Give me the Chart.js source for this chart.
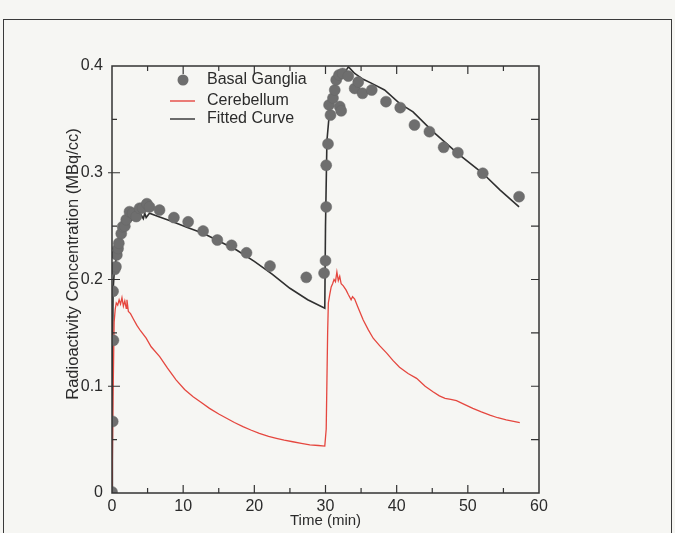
<!DOCTYPE html>
<html><head><meta charset="utf-8">
<script src="https://cdn.jsdelivr.net/npm/chart.js@4"></script>
<style>
html,body{margin:0;padding:0;background:#f6f6f3;}
#wrap{position:relative;width:675px;height:533px;overflow:hidden;}
#frame{position:absolute;left:3px;top:19px;width:669px;height:530px;border:1.5px solid #3a3a3a;box-sizing:border-box;}
canvas{position:absolute;left:0;top:0;}
</style></head><body>
<div id="wrap"><div id="frame"></div><canvas id="c" width="675" height="533"></canvas></div>
<script>
// ---- data ----
const xTicks = [0,10,20,30,40,50,60];
const xMinorTicks = [5,15,25,35,45,55];
const yTicks = [0,0.1,0.2,0.3,0.4];
const yMinorTicks = [0.05,0.15,0.25,0.35];

const bgTime  = [0,0.1,0.2,0.15,0.4,0.55,0.68,0.85,0.96,1.3,1.5,1.8,2.0,2.46,2.9,3.4,3.87,4.3,4.9,5.27,6.68,8.7,10.7,12.8,14.8,16.8,18.9,22.2,27.3,29.8,30.0,30.1,30.1,30.35,30.7,30.5,31.05,31.3,31.5,31.9,32.4,33.2,32.0,32.2,34.1,34.6,35.2,36.5,38.5,40.5,42.5,44.6,46.6,48.6,52.1,57.2];
const bgValue = [0.001,0.067,0.143,0.189,0.2096,0.212,0.223,0.229,0.234,0.243,0.2495,0.25,0.256,0.2635,0.262,0.259,0.2667,0.267,0.271,0.268,0.265,0.258,0.254,0.2454,0.237,0.232,0.225,0.2126,0.202,0.206,0.2176,0.268,0.307,0.327,0.354,0.3635,0.37,0.3775,0.387,0.3916,0.393,0.3906,0.362,0.358,0.379,0.385,0.3744,0.3775,0.3666,0.361,0.3447,0.3385,0.3238,0.3188,0.2995,0.2776];

const cbTime  = [0,0.15,0.3,0.45,0.6,0.8,1.0,1.2,1.4,1.6,1.8,2.0,2.1,2.3,2.6,3.0,3.5,4.0,4.8,5.5,6.7,7.8,9.0,10.2,11.4,12.5,13.7,15,16.1,17.2,18.4,19.5,20.7,22,23.1,24.2,25.4,26.6,27.8,29,29.9,30.1,30.3,30.4,30.6,30.8,31.0,31.2,31.4,31.6,31.8,32.0,32.2,32.5,32.9,33.2,33.6,33.8,34.1,34.5,35.3,36.0,36.7,37.6,38.6,39.5,40.4,41.6,42.8,44,45.1,46.0,46.8,47.6,48.4,49.5,50.7,51.9,53.1,54.2,55.4,57.3];
const cbValue = [0,0.09,0.16,0.172,0.178,0.176,0.181,0.177,0.183,0.175,0.18,0.173,0.181,0.17,0.168,0.163,0.157,0.152,0.145,0.137,0.1277,0.117,0.106,0.097,0.0902,0.085,0.0793,0.074,0.07,0.066,0.0621,0.059,0.0559,0.053,0.0512,0.0495,0.048,0.0465,0.045,0.0445,0.044,0.06,0.15,0.178,0.186,0.193,0.196,0.2,0.198,0.207,0.199,0.203,0.196,0.194,0.19,0.186,0.181,0.184,0.1817,0.175,0.162,0.153,0.145,0.138,0.131,0.124,0.1178,0.112,0.1074,0.1,0.0949,0.091,0.0887,0.0876,0.0865,0.083,0.0793,0.076,0.073,0.0705,0.0684,0.0659];

const fitTime  = [0,0.05,0.15,0.3,0.6,1.0,1.5,2.0,2.5,3.0,3.5,4.1,4.4,4.6,4.8,5.27,6.5,8.55,10.5,12.8,15,17.5,20,22.5,25,27.5,29.9,30.0,30.2,30.5,31.05,31.6,32.2,32.8,33.2,33.4,34.1,35.3,36.5,38.3,40.4,42.3,45.1,48.6,52.1,54.5,57.2];
const fitValue = [0,0.1,0.19,0.205,0.22,0.232,0.242,0.249,0.254,0.257,0.259,0.2604,0.257,0.262,0.258,0.262,0.259,0.254,0.249,0.2433,0.236,0.2276,0.217,0.205,0.1918,0.181,0.173,0.25,0.33,0.3525,0.3775,0.386,0.39,0.395,0.399,0.398,0.393,0.3875,0.3837,0.3775,0.365,0.357,0.3385,0.318,0.2995,0.284,0.268];

const legendLabels = ['Basal Ganglia','Cerebellum','Fitted Curve'];
const yTitle = 'Radioactivity Concentration (MBq/cc)';
const xTitle = 'Time (min)';

const pts = (xs, ys) => xs.map((x,i)=>({x, y: ys[i]}));
const INK = '#2b2b2b';
const FONT = '"Liberation Sans", Arial, Helvetica, sans-serif';

const frameTicks = {
  id:'frameTicks',
  afterDatasetsDraw(chart){
    const {ctx, chartArea:a, scales:{x, y}} = chart;
    ctx.save();
    ctx.strokeStyle = '#333'; ctx.lineWidth = 1.5;
    ctx.strokeRect(a.left, a.top, a.right-a.left, a.bottom-a.top);
    ctx.lineWidth = 1.2;
    ctx.beginPath();
    const xt = (v, len) => { const p = x.getPixelForValue(v);
      ctx.moveTo(p, a.bottom); ctx.lineTo(p, a.bottom-len);
      ctx.moveTo(p, a.top); ctx.lineTo(p, a.top+len); };
    xTicks.slice(1,-1).forEach(v=>xt(v,8));
    xMinorTicks.forEach(v=>xt(v,5));
    const yt = (v, len, out) => { const p = y.getPixelForValue(v);
      ctx.moveTo(a.left-out, p); ctx.lineTo(a.left+len, p);
      ctx.moveTo(a.right, p); ctx.lineTo(a.right-8, p); };
    yTicks.slice(1,-1).forEach(v=>yt(v,8,4));
    yMinorTicks.forEach(v=>yt(v,5,0));
    ctx.stroke();
    // legend inside plot
    const ds = chart.data.datasets;
    ctx.font = '16px ' + FONT; ctx.fillStyle = INK; ctx.textBaseline = 'middle';
    const lx = 183, rows = [80, 101, 119];
    ctx.beginPath(); ctx.fillStyle = ds[0].backgroundColor;
    ctx.arc(lx, rows[0], 5.5, 0, Math.PI*2); ctx.fill();
    [1,2].forEach(i=>{ ctx.beginPath(); ctx.strokeStyle = ds[i].borderColor; ctx.lineWidth = 1.4;
      ctx.moveTo(lx-13, rows[i]); ctx.lineTo(lx+12, rows[i]); ctx.stroke(); });
    ctx.fillStyle = INK;
    legendLabels.forEach((t,i)=>ctx.fillText(t, 207, rows[i]));
    // y axis title
    ctx.save();
    ctx.translate(73, 264); ctx.rotate(-Math.PI/2);
    ctx.font = '16.5px ' + FONT; ctx.textAlign = 'center'; ctx.textBaseline = 'middle';
    ctx.fillText(yTitle, 0, 0);
    ctx.restore();
    ctx.restore();
  }
};

new Chart(document.getElementById('c'), {
  type: 'scatter',
  data: { datasets: [
    { label: legendLabels[0], data: pts(bgTime, bgValue), backgroundColor:'#6e6e6e', borderColor:'#666', borderWidth:0.5, pointRadius:5.5, showLine:false },
    { label: legendLabels[1], data: pts(cbTime, cbValue), borderColor:'#e5473f', borderWidth:1.3, pointRadius:0, showLine:true, fill:false },
    { label: legendLabels[2], data: pts(fitTime, fitValue), borderColor:'#303030', borderWidth:1.6, pointRadius:0, showLine:true, fill:false }
  ]},
  options: {
    responsive:false, animation:false, devicePixelRatio:1,
    layout:{ padding:{ left:0, top:66, right:136, bottom:0 } },
    plugins:{ legend:{display:false}, tooltip:{enabled:false} },
    scales:{
      x:{ type:'linear', min:0, max:60,
        afterBuildTicks: s => { s.ticks = xTicks.map(v=>({value:v})); },
        afterFit: s => { s.height = 40; },
        grid:{ display:false, drawTicks:false }, border:{ display:false },
        ticks:{ color:INK, font:{ family:FONT, size:16 }, padding:4, callback:v=>String(v) },
        title:{ display:true, text:xTitle, color:INK, font:{ family:FONT, size:15 }, padding:{ top:0, bottom:3 } } },
      y:{ type:'linear', min:0, max:0.4,
        afterBuildTicks: s => { s.ticks = yTicks.map(v=>({value:v})); },
        afterFit: s => { s.width = 112; },
        grid:{ display:false, drawTicks:false }, border:{ display:false },
        ticks:{ color:INK, font:{ family:FONT, size:16 }, padding:9, callback:v=> v===0 ? '0' : Number(v).toFixed(1) },
        title:{ display:false } }
    }
  },
  plugins:[frameTicks]
});
</script>
</body></html>
